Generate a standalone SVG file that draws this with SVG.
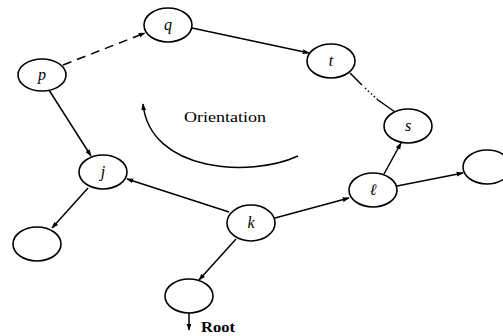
<svg xmlns="http://www.w3.org/2000/svg" width="503" height="336" viewBox="0 0 503 336">
<defs>
<style>
.n{fill:#fff;stroke:#000;stroke-width:1.6}
.e{fill:none;stroke:#000;stroke-width:1.5}
.lb{font-family:"Liberation Serif",serif;font-style:italic;font-size:16px;text-anchor:middle}
.t{font-family:"Liberation Serif",serif;font-size:14px}
</style>
<marker id="a" viewBox="0 0 10 10" refX="9" refY="5" markerWidth="7" markerHeight="7" markerUnits="userSpaceOnUse" orient="auto">
<path d="M0,1.5 L10,5 L0,8.5 Z" fill="#000"/>
</marker>
</defs>
<rect width="503" height="336" fill="#fff"/>
<g id="connectors">
<line class="e" x1="63" y1="65" x2="145" y2="33" stroke-dasharray="9,6" marker-end="url(#a)"/>
<line class="e" x1="192" y1="28" x2="309" y2="53" marker-end="url(#a)"/>
<line class="e" x1="350" y1="73" x2="362" y2="85"/>
<line class="e" x1="365" y1="88" x2="378" y2="100" stroke-dasharray="1.5,2.5"/>
<line class="e" x1="378" y1="100" x2="395" y2="112"/>
<line class="e" x1="384" y1="174" x2="401" y2="143" marker-end="url(#a)"/>
<line class="e" x1="49" y1="90" x2="91" y2="156" marker-end="url(#a)"/>
<line class="e" x1="229" y1="212" x2="127" y2="179" marker-end="url(#a)"/>
<line class="e" x1="88" y1="188" x2="52" y2="228" marker-end="url(#a)"/>
<line class="e" x1="236" y1="239" x2="199" y2="280" marker-end="url(#a)"/>
<line class="e" x1="275" y1="218" x2="349" y2="198" marker-end="url(#a)"/>
<line class="e" x1="397" y1="186" x2="463" y2="173" marker-end="url(#a)"/>
<line class="e" x1="189" y1="313" x2="189" y2="330" marker-end="url(#a)"/>
<path class="e" d="M298,156 C250,178 150,172 143,104" marker-end="url(#a)"/>
</g>
<g id="node-q"><ellipse class="n" cx="168" cy="25" rx="24" ry="17"/><text class="lb" x="168" y="30">q</text></g>
<g id="node-p"><ellipse class="n" cx="42" cy="75" rx="24" ry="16"/><text class="lb" x="42" y="80">p</text></g>
<g id="node-t"><ellipse class="n" cx="331" cy="61" rx="24" ry="17"/><text class="lb" x="331" y="66">t</text></g>
<g id="node-s"><ellipse class="n" cx="408" cy="126" rx="24" ry="17"/><text class="lb" x="408" y="131">s</text></g>
<g id="node-j"><ellipse class="n" cx="103" cy="172" rx="24" ry="17"/><text class="lb" x="103" y="177">j</text></g>
<g id="node-k"><ellipse class="n" cx="251" cy="223" rx="24" ry="18"/><text class="lb" x="251" y="228">k</text></g>
<g id="node-l"><ellipse class="n" cx="373" cy="190" rx="24" ry="17"/><text class="lb" x="373" y="195">ℓ</text></g>
<g id="node-left"><ellipse class="n" cx="37" cy="244" rx="24" ry="17"/></g>
<g id="node-root"><ellipse class="n" cx="189" cy="296" rx="24" ry="17"/></g>
<g id="node-right"><ellipse class="n" cx="487" cy="167" rx="24" ry="17"/></g>
<text class="t" x="184" y="122" textLength="82" lengthAdjust="spacingAndGlyphs">Orientation</text>
<text class="t" x="201" y="332" textLength="34" lengthAdjust="spacingAndGlyphs" font-weight="600">Root</text>
</svg>
